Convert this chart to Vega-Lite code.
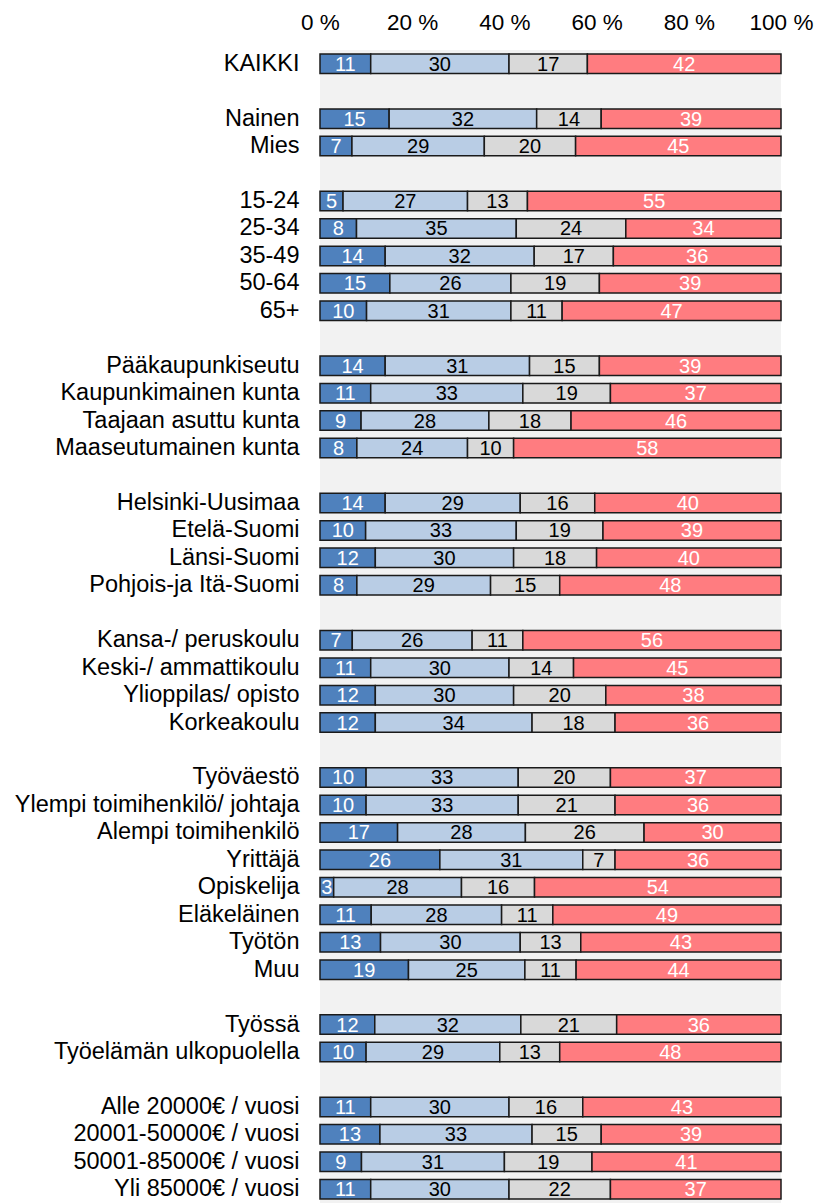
{
  "$schema": "https://vega.github.io/schema/vega-lite/v6.json",
  "width": 461,
  "height": 1153,
  "autosize": {"type": "none"},
  "padding": {"left": 320, "top": 50, "right": 38, "bottom": 0},
  "background": "white",
  "view": {"fill": "#f2f2f2", "stroke": null},
  "config": {"font": "Liberation Sans"},
  "datasets": {
    "rows": [
      {"label": "KAIKKI", "a": 11, "b": 30, "c": 17, "d": 42},
      {"label": "Nainen", "a": 15, "b": 32, "c": 14, "d": 39},
      {"label": "Mies", "a": 7, "b": 29, "c": 20, "d": 45},
      {"label": "15-24", "a": 5, "b": 27, "c": 13, "d": 55},
      {"label": "25-34", "a": 8, "b": 35, "c": 24, "d": 34},
      {"label": "35-49", "a": 14, "b": 32, "c": 17, "d": 36},
      {"label": "50-64", "a": 15, "b": 26, "c": 19, "d": 39},
      {"label": "65+", "a": 10, "b": 31, "c": 11, "d": 47},
      {"label": "Pääkaupunkiseutu", "a": 14, "b": 31, "c": 15, "d": 39},
      {"label": "Kaupunkimainen kunta", "a": 11, "b": 33, "c": 19, "d": 37},
      {"label": "Taajaan asuttu kunta", "a": 9, "b": 28, "c": 18, "d": 46},
      {"label": "Maaseutumainen kunta", "a": 8, "b": 24, "c": 10, "d": 58},
      {"label": "Helsinki-Uusimaa", "a": 14, "b": 29, "c": 16, "d": 40},
      {"label": "Etelä-Suomi", "a": 10, "b": 33, "c": 19, "d": 39},
      {"label": "Länsi-Suomi", "a": 12, "b": 30, "c": 18, "d": 40},
      {"label": "Pohjois-ja Itä-Suomi", "a": 8, "b": 29, "c": 15, "d": 48},
      {"label": "Kansa-/ peruskoulu", "a": 7, "b": 26, "c": 11, "d": 56},
      {"label": "Keski-/ ammattikoulu", "a": 11, "b": 30, "c": 14, "d": 45},
      {"label": "Ylioppilas/ opisto", "a": 12, "b": 30, "c": 20, "d": 38},
      {"label": "Korkeakoulu", "a": 12, "b": 34, "c": 18, "d": 36},
      {"label": "Työväestö", "a": 10, "b": 33, "c": 20, "d": 37},
      {"label": "Ylempi toimihenkilö/ johtaja", "a": 10, "b": 33, "c": 21, "d": 36},
      {"label": "Alempi toimihenkilö", "a": 17, "b": 28, "c": 26, "d": 30},
      {"label": "Yrittäjä", "a": 26, "b": 31, "c": 7, "d": 36},
      {"label": "Opiskelija", "a": 3, "b": 28, "c": 16, "d": 54},
      {"label": "Eläkeläinen", "a": 11, "b": 28, "c": 11, "d": 49},
      {"label": "Työtön", "a": 13, "b": 30, "c": 13, "d": 43},
      {"label": "Muu", "a": 19, "b": 25, "c": 11, "d": 44},
      {"label": "Työssä", "a": 12, "b": 32, "c": 21, "d": 36},
      {"label": "Työelämän ulkopuolella", "a": 10, "b": 29, "c": 13, "d": 48},
      {"label": "Alle 20000€ / vuosi", "a": 11, "b": 30, "c": 16, "d": 43},
      {"label": "20001-50000€ / vuosi", "a": 13, "b": 33, "c": 15, "d": 39},
      {"label": "50001-85000€ / vuosi", "a": 9, "b": 31, "c": 19, "d": 41},
      {"label": "Yli 85000€ / vuosi", "a": 11, "b": 30, "c": 22, "d": 37}
    ]
  },
  "data": {"name": "rows"},
  "transform": [
    {"fold": ["a", "b", "c", "d"], "as": ["cat", "value"]},
    {"stack": "value", "groupby": ["label"], "sort": [{"field": "cat", "order": "ascending"}], "offset": "normalize", "as": ["v0", "v1"]},
    {"calculate": "(datum.v0 + datum.v1) / 2", "as": "vm"}
  ],
  "encoding": {
    "y": {
      "field": "label",
      "type": "nominal",
      "scale": {
        "domain": ["KAIKKI", " ", "Nainen", "Mies", "  ", "15-24", "25-34", "35-49", "50-64", "65+", "   ", "Pääkaupunkiseutu", "Kaupunkimainen kunta", "Taajaan asuttu kunta", "Maaseutumainen kunta", "    ", "Helsinki-Uusimaa", "Etelä-Suomi", "Länsi-Suomi", "Pohjois-ja Itä-Suomi", "     ", "Kansa-/ peruskoulu", "Keski-/ ammattikoulu", "Ylioppilas/ opisto", "Korkeakoulu", "      ", "Työväestö", "Ylempi toimihenkilö/ johtaja", "Alempi toimihenkilö", "Yrittäjä", "Opiskelija", "Eläkeläinen", "Työtön", "Muu", "       ", "Työssä", "Työelämän ulkopuolella", "        ", "Alle 20000€ / vuosi", "20001-50000€ / vuosi", "50001-85000€ / vuosi", "Yli 85000€ / vuosi"],
        "paddingInner": 0.29,
        "paddingOuter": 0.145
      },
      "axis": {
        "title": null,
        "domain": false,
        "ticks": false,
        "labelPadding": 21,
        "labelFontSize": 23.5,
        "labelColor": "black",
        "labelLimit": 400
      }
    }
  },
  "layer": [
    {
      "mark": {"type": "bar", "stroke": "#1a1a1a", "strokeWidth": 1.5},
      "encoding": {
        "x": {
          "field": "v0",
          "type": "quantitative",
          "scale": {"domain": [0, 1], "nice": false},
          "axis": {
            "orient": "top",
            "title": null,
            "values": [0, 0.2, 0.4, 0.6, 0.8, 1],
            "labelExpr": "format(datum.value * 100, 'd') + ' %'",
            "domain": false,
            "ticks": false,
            "grid": false,
            "labelPadding": 16,
            "labelFontSize": 22.5,
            "labelColor": "black",
            "labelFlush": false
          }
        },
        "x2": {"field": "v1"},
        "color": {
          "field": "cat",
          "type": "nominal",
          "scale": {"domain": ["a", "b", "c", "d"], "range": ["#4f81bd", "#b9cde5", "#d9d9d9", "#ff7c80"]},
          "legend": null
        }
      }
    },
    {
      "mark": {"type": "text", "fontSize": 20, "baseline": "middle", "align": "center", "dy": 1},
      "encoding": {
        "x": {"field": "vm", "type": "quantitative"},
        "text": {"field": "value", "type": "quantitative"},
        "color": {
          "condition": {"test": "datum.cat === 'a' || datum.cat === 'd'", "value": "white"},
          "value": "black"
        }
      }
    }
  ]
}
